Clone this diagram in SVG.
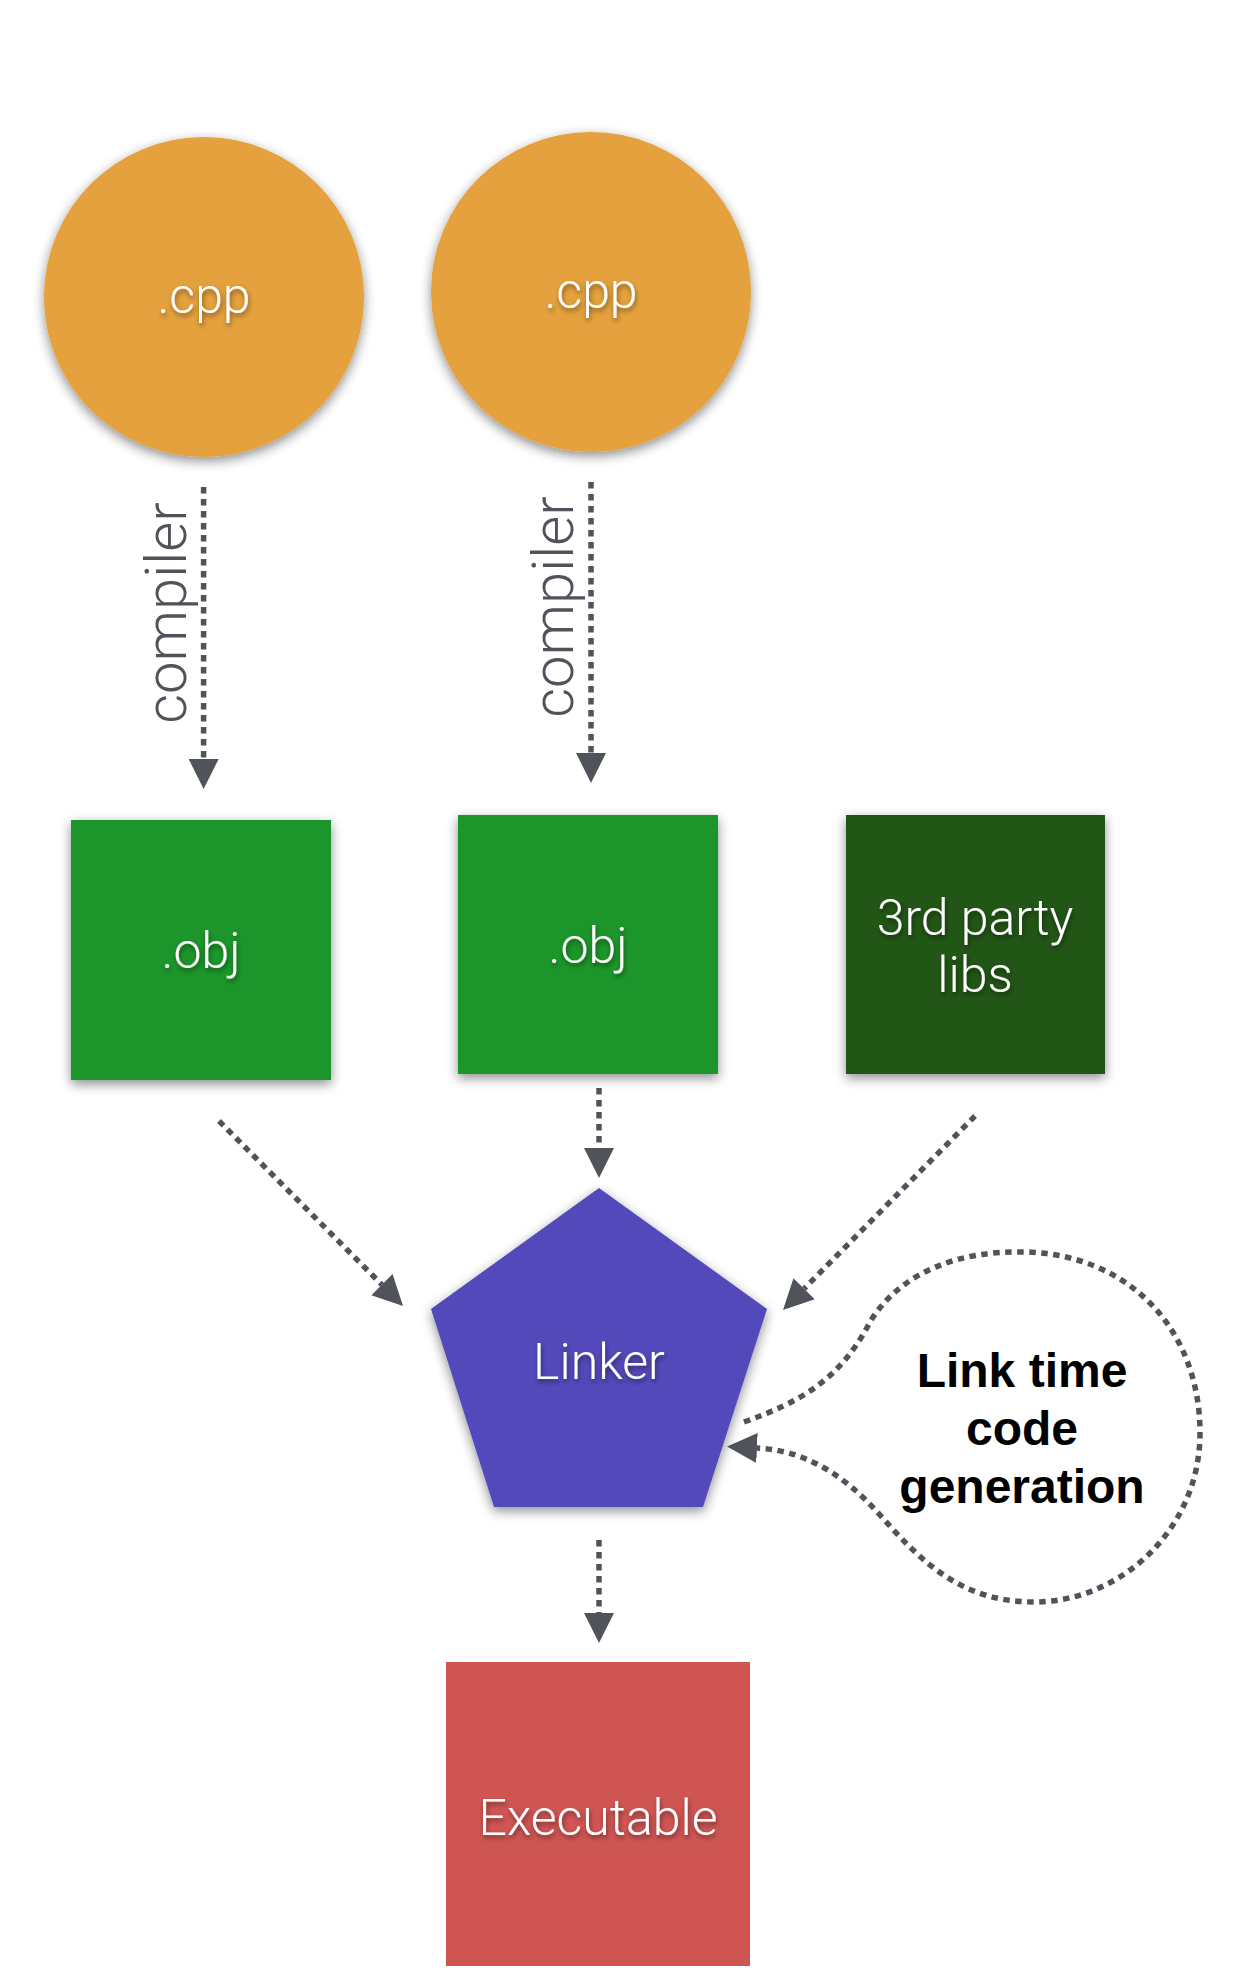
<svg xmlns="http://www.w3.org/2000/svg" width="1238" height="1988" viewBox="0 0 1238 1988">
<style>
.lbl{font-family:Roboto,"Liberation Sans",sans-serif;font-weight:300;font-size:50px;fill:#ffffff;text-anchor:middle}
.cmp{font-family:Roboto,"Liberation Sans",sans-serif;font-weight:300;font-size:58px;fill:#50545a;text-anchor:middle}
.bold{font-family:"Liberation Sans",Arial,sans-serif;font-weight:bold;font-size:48px;fill:#000000;text-anchor:middle}
.con{fill:none;stroke:#50545a;stroke-width:5.5;stroke-dasharray:6.5 5.5}
</style>
<defs>
<filter id="sh" x="-20%" y="-20%" width="140%" height="140%">
<feDropShadow dx="0" dy="4" stdDeviation="6" flood-color="#000" flood-opacity="0.45"/>
</filter>
<filter id="tsh" x="-20%" y="-40%" width="140%" height="180%">
<feDropShadow dx="1" dy="3" stdDeviation="2.5" flood-color="#000" flood-opacity="0.45"/>
</filter>
<marker id="ah" viewBox="0 0 30 30" refX="0" refY="15" markerWidth="30" markerHeight="30" markerUnits="userSpaceOnUse" orient="auto">
<path d="M0,0 L30,15 L0,30 z" fill="#50545a"/>
</marker>
</defs>
<rect width="1238" height="1988" fill="#ffffff"/>

<g id="connectors">
<line class="con" x1="203.6" y1="487" x2="203.6" y2="759" marker-end="url(#ah)"/>
<line class="con" x1="591" y1="482" x2="591" y2="753" marker-end="url(#ah)"/>
<line class="con" x1="599" y1="1088" x2="599" y2="1148" marker-end="url(#ah)"/>
<line class="con" x1="219" y1="1121" x2="381.9" y2="1284.7" marker-end="url(#ah)"/>
<line class="con" x1="975" y1="1116" x2="804.1" y2="1288.7" marker-end="url(#ah)"/>
<line class="con" x1="599" y1="1540" x2="599" y2="1613" marker-end="url(#ah)"/>
<path class="con" d="M744 1422 C800 1402 840 1380 870 1322 C900 1272 960 1250 1026 1252 C1130 1255 1200 1330 1200 1433 C1200 1530 1120 1602 1034 1602 C960 1602 920 1560 880 1515 C840 1470 800 1450 757 1448" marker-end="url(#ah)"/>
<text class="cmp" transform="translate(186 613) rotate(-90)">compiler</text>
<text class="cmp" transform="translate(573 607) rotate(-90)">compiler</text>
</g>

<g id="cpp1">
<circle cx="204" cy="297" r="160" fill="#e4a13d" filter="url(#sh)"/>
<text class="lbl" x="204" y="313" filter="url(#tsh)">.cpp</text>
</g>
<g id="cpp2">
<circle cx="591" cy="292" r="160" fill="#e4a13d" filter="url(#sh)"/>
<text class="lbl" x="591" y="308" filter="url(#tsh)">.cpp</text>
</g>
<g id="obj1">
<rect x="71" y="820" width="260" height="260" fill="#1d9629" filter="url(#sh)"/>
<text class="lbl" x="201" y="968" filter="url(#tsh)">.obj</text>
</g>
<g id="obj2">
<rect x="458" y="815" width="260" height="259" fill="#1d9629" filter="url(#sh)"/>
<text class="lbl" x="588" y="963" filter="url(#tsh)">.obj</text>
</g>
<g id="libs">
<rect x="846" y="815" width="259" height="259" fill="#245718" filter="url(#sh)"/>
<text class="lbl" x="975" y="935" filter="url(#tsh)">3rd party</text>
<text class="lbl" x="975" y="992" filter="url(#tsh)">libs</text>
</g>
<g id="linker">
<polygon points="599,1188 767,1309 703,1507 494,1507 431,1309" fill="#534aba" filter="url(#sh)"/>
<text class="lbl" x="599" y="1379" filter="url(#tsh)">Linker</text>
</g>
<g id="ltcg">
<text class="bold" x="1022" y="1387">Link time</text>
<text class="bold" x="1022" y="1445">code</text>
<text class="bold" x="1022" y="1503">generation</text>
</g>
<g id="exe">
<rect x="446" y="1662" width="304" height="304" fill="#cf5553"/>
<text class="lbl" x="598" y="1835" filter="url(#tsh)">Executable</text>
</g>
</svg>
